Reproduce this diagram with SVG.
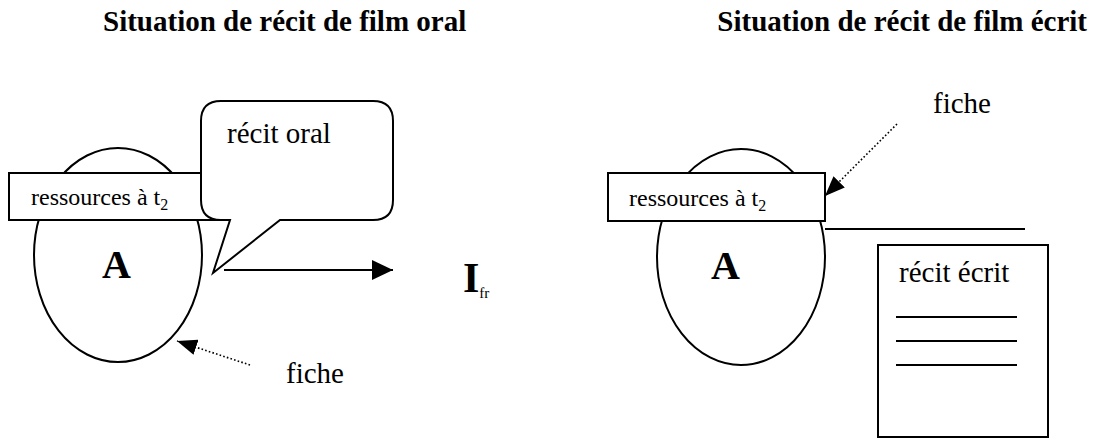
<svg xmlns="http://www.w3.org/2000/svg" width="1093" height="438" viewBox="0 0 1093 438">
<style>
text{font-family:"Liberation Serif","Times New Roman",serif;fill:#000}
.t{font-size:29px;font-weight:bold}
.n{font-size:29px}
.s{font-size:24px}
.big{font-weight:bold}
.sh{fill:#fff;stroke:#000;stroke-width:2}
.ln{fill:none;stroke:#000;stroke-width:2}
.dot{fill:none;stroke:#000;stroke-width:1.6;stroke-dasharray:1.6 2.2}
</style>
<defs>
<marker id="ah" viewBox="0 0 20 16" refX="20" refY="8" markerWidth="20" markerHeight="16" markerUnits="userSpaceOnUse" orient="auto">
<path d="M0,0 L20,8 L0,16 Z" fill="#000"/>
</marker>
<marker id="ahs" viewBox="0 0 21 20" refX="21" refY="10" markerWidth="21" markerHeight="20" markerUnits="userSpaceOnUse" orient="auto">
<path d="M0,0 L21,10 L0,20 Z" fill="#000"/>
</marker>
</defs>
<g id="titles">
<text class="t" x="103" y="31">Situation de récit de film oral</text>
<text class="t" x="1087" y="31" text-anchor="end">Situation de récit de film écrit</text>
</g>
<g id="person-left">
<ellipse class="sh" cx="118" cy="255" rx="84" ry="107"/>
<text class="big" x="102" y="278" font-size="40">A</text>
</g>
<g id="resources-left">
<rect class="sh" x="9" y="173" width="221" height="47"/>
<text class="s" x="31" y="205">ressources à t<tspan font-size="16" dy="5">2</tspan></text>
</g>
<g id="recit-oral">
<path class="sh" d="M221,101 H373 Q393,101 393,121 V200 Q393,220 373,220 H280 L213,273 L230,220 H221 Q201,220 201,200 V121 Q201,101 221,101 Z"/>
<text class="n" x="227" y="143">récit oral</text>
</g>
<g id="ifr">
<text class="big" x="463" y="292" font-size="42">I<tspan font-size="15" font-weight="normal" dy="6">fr</tspan></text>
</g>
<g id="fiche-left">
<text class="n" x="286" y="383">fiche</text>
</g>
<g id="person-right">
<ellipse class="sh" cx="741" cy="257" rx="84" ry="108"/>
<text class="big" x="711" y="279" font-size="40">A</text>
</g>
<g id="resources-right">
<rect class="sh" x="608" y="173" width="217" height="48"/>
<text class="s" x="629" y="206">ressources à t<tspan font-size="16" dy="5">2</tspan></text>
</g>
<g id="fiche-right">
<text class="n" x="933" y="113">fiche</text>
</g>
<g id="recit-ecrit">
<rect class="sh" x="878" y="245" width="170" height="192"/>
<text class="n" x="899" y="282">récit écrit</text>
<line class="ln" x1="896" y1="317" x2="1017" y2="317"/>
<line class="ln" x1="896" y1="341" x2="1017" y2="341"/>
<line class="ln" x1="896" y1="365" x2="1017" y2="365"/>
</g>
<g id="connectors">
<line class="ln" x1="224" y1="270" x2="393" y2="270" marker-end="url(#ahs)"/>
<line class="dot" x1="250" y1="365" x2="177" y2="341" marker-end="url(#ah)"/>
<line class="dot" x1="897" y1="124" x2="825" y2="196" marker-end="url(#ah)"/>
<line class="ln" x1="825" y1="229" x2="1025" y2="229"/>
</g>
</svg>
